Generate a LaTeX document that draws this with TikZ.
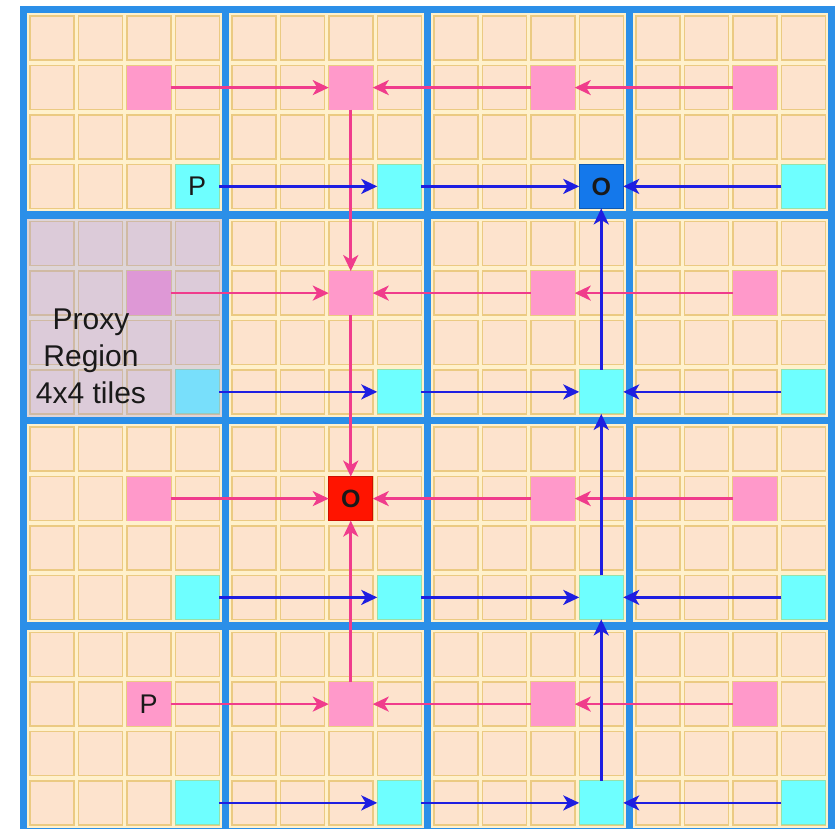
\documentclass[tikz,border=0pt]{standalone}
\usepackage{fontspec}
\setmainfont{Liberation Sans}
\usepackage{xcolor}
\usepackage{tikz}
\usetikzlibrary{arrows.meta}
\definecolor{regblue}{RGB}{43,143,232}
\definecolor{creamgap}{RGB}{255,241,204}
\definecolor{peach}{RGB}{253,227,205}
\definecolor{tileedge}{RGB}{235,202,130}
\definecolor{pinktile}{RGB}{255,153,202}
\definecolor{cyantile}{RGB}{110,255,255}
\definecolor{cyanedge}{RGB}{150,225,170}
\definecolor{pinkline}{RGB}{240,60,140}
\definecolor{blueline}{RGB}{30,30,225}
\definecolor{oblue}{RGB}{20,120,235}
\definecolor{ored}{RGB}{255,20,0}
\definecolor{proxytint}{RGB}{146,150,245}

\begin{document}
\begin{tikzpicture}[
  x=1pt, y=-1pt,
  tile/.style={draw=tileedge, fill=peach, line width=1.5pt},
  regline/.style={draw=regblue, line width=7.5pt},
  sq/.style={minimum size=44pt, inner sep=0pt, outer sep=0pt, text=black!90, font=\fontsize{27}{30}\selectfont},
  pk/.style={sq, fill=pinktile},
  cy/.style={sq, fill=cyantile, draw=cyanedge, line width=1pt},
  obox/.style={sq, font=\fontsize{25}{28}\selectfont\bfseries},
  pa/.style={-{Stealth[length=16pt, width=15pt, inset=4.5pt]}, draw=pinkline, line width=2.6pt},
  ba/.style={-{Stealth[length=16pt, width=15pt, inset=4.5pt]}, draw=blueline, line width=2.6pt}
]
\useasboundingbox (0,0) rectangle (836,829);
\clip (0,0) rectangle (836,829);
\fill[creamgap] (23.5,9.5) rectangle (831.5,831.5);
% 16x16 tiles
\foreach \C in {0,...,3} \foreach \i in {0,...,3} \foreach \R in {0,...,3} \foreach \j in {0,...,3}
  \draw[tile] ({29.75+202*\C+48.5*\i},{16.2+205.5*\R+49.4*\j}) rectangle ++(44,44);
% one pink and one cyan tile per region
\foreach \R in {0,...,3} \foreach \C in {0,...,3} {
  \node[pk] (pk\R\C) at ({148.75+202*\C},{87.6+205.5*\R}) {};
  \node[cy] (cy\R\C) at ({197.25+202*\C},{186.4+205.5*\R}) {};
}
\node[cy] (cy00) at (197.25,186.4) {P};
\node[pk] (pk30) at (148.75,704.1) {P};
\node[obox, fill=oblue, draw=oblue!75!black, line width=1pt] (cy02) at (601.25,186.4) {O};
\node[obox, fill=ored, draw=ored!80!black, line width=1pt] (pk21) at (350.75,498.6) {O};
% proxy region
\fill[proxytint, opacity=0.3] (23.5,215) rectangle (225.5,420.5);
% region borders
\draw[regline] (23.5,9.5) rectangle (831.5,831.5);
\foreach \x in {225.5,427.5,629.5} \draw[regline] (\x,9.5) -- (\x,831.5);
\foreach \y in {215,420.5,626} \draw[regline] (23.5,\y) -- (831.5,\y);
\node[font=\fontsize{30}{37}\selectfont, align=center, text=black!90] (proxy) at (91,356) {Proxy\\Region\\4x4 tiles};
% pink paths
\draw[pa] (pk00) -- (pk01);
\draw[pa] (pk02) -- (pk01);
\draw[pa] (pk03) -- (pk02);
\draw[pa] (pk01) -- (pk11);
\draw[pa] (pk10) -- (pk11);
\draw[pa] (pk12) -- (pk11);
\draw[pa] (pk13) -- (pk12);
\draw[pa] (pk11) -- (pk21);
\draw[pa] (pk20) -- (pk21);
\draw[pa] (pk22) -- (pk21);
\draw[pa] (pk23) -- (pk22);
\draw[pa] (pk31) -- (pk21);
\draw[pa] (pk30) -- (pk31);
\draw[pa] (pk32) -- (pk31);
\draw[pa] (pk33) -- (pk32);
% blue paths
\draw[ba] (cy00) -- (cy01);
\draw[ba] (cy01) -- (cy02);
\draw[ba] (cy03) -- (cy02);
\draw[ba] (cy12) -- (cy02);
\draw[ba] (cy10) -- (cy11);
\draw[ba] (cy11) -- (cy12);
\draw[ba] (cy13) -- (cy12);
\draw[ba] (cy22) -- (cy12);
\draw[ba] (cy20) -- (cy21);
\draw[ba] (cy21) -- (cy22);
\draw[ba] (cy23) -- (cy22);
\draw[ba] (cy32) -- (cy22);
\draw[ba] (cy30) -- (cy31);
\draw[ba] (cy31) -- (cy32);
\draw[ba] (cy33) -- (cy32);
\end{tikzpicture}
\end{document}
